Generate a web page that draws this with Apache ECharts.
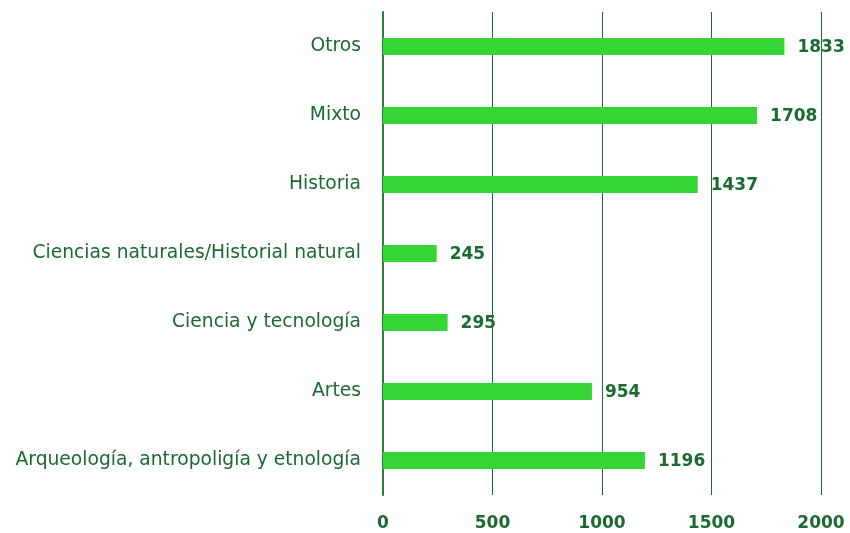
<!DOCTYPE html>
<html>
<head>
<meta charset="utf-8">
<script src="https://cdn.jsdelivr.net/npm/echarts@6/dist/echarts.min.js"></script>
<style>
  html, body { margin: 0; padding: 0; background: #fff; }
  #chart { width: 850px; height: 533px; }
</style>
</head>
<body>
<div id="chart"></div>
<script>
// categories listed bottom to top
const categories = [
    'Arqueología, antropoligía y etnología',
    'Artes',
    'Ciencia y tecnología',
    'Ciencias naturales/Historial natural',
    'Historia',
    'Mixto',
    'Otros'
];
const museumCounts = [1196, 954, 295, 245, 1437, 1708, 1833];
const xTicks = [0, 500, 1000, 1500, 2000];

const darkGreen = '#1b6a30';
const chart = echarts.init(document.getElementById('chart'));

const option = {
    animation: false,
    grid: {
        left: 383,
        right: 29,
        top: 12,
        bottom: 38
    },
    xAxis: {
        type: 'value',
        min: xTicks[0],
        max: xTicks[xTicks.length - 1],
        interval: 500,
        axisLine: { show: false },
        axisTick: { show: false },
        splitLine: { show: true, lineStyle: { color: darkGreen, width: 1 } },
        axisLabel: {
            color: darkGreen,
            fontFamily: 'DejaVu Sans',
            fontWeight: 'bold',
            fontSize: 17,
            margin: 20,
            formatter: (v) => String(v)
        }
    },
    yAxis: {
        type: 'category',
        data: categories,
        axisLine: { show: true, lineStyle: { color: '#2e7a44', width: 2 } },
        axisTick: { show: false },
        axisLabel: {
            color: darkGreen,
            fontFamily: 'DejaVu Sans',
            fontSize: 18.7,
            margin: 22,
            padding: [4, 0, 0, 0]
        }
    },
    series: [{
        type: 'bar',
        data: museumCounts,
        barWidth: 17,
        itemStyle: { color: '#35d535' },
        label: {
            show: true,
            position: 'right',
            distance: 13,
            color: darkGreen,
            fontFamily: 'DejaVu Sans',
            fontWeight: 'bold',
            fontSize: 17,
            offset: [0, 1]
        }
    }]
};

chart.setOption(option);
</script>
</body>
</html>
